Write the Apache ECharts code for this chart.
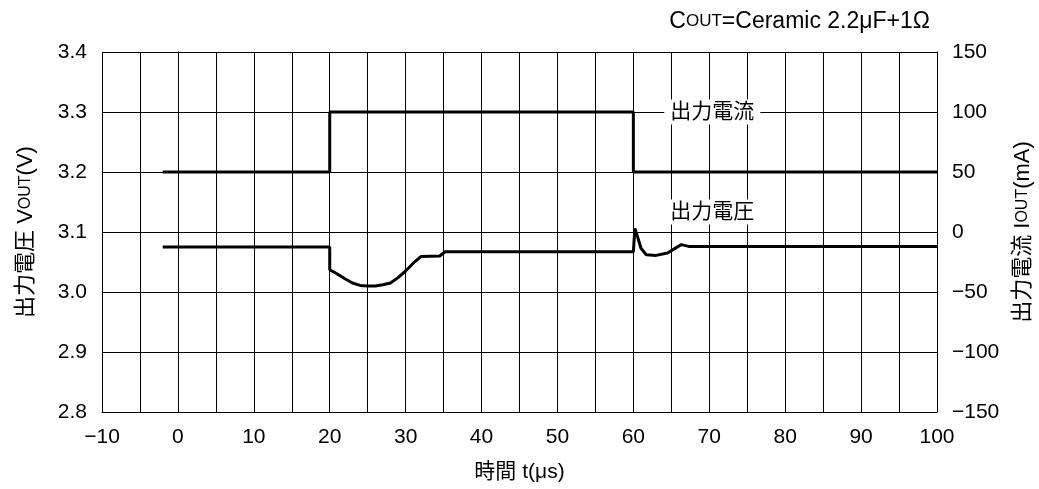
<!DOCTYPE html>
<html><head><meta charset="utf-8">
<script src="https://cdn.jsdelivr.net/npm/echarts@6/dist/echarts.min.js"></script>
<style>html,body{margin:0;padding:0;background:#fff}#c{width:1039px;height:489px}</style>
</head><body><div id="c"></div>
<script>
// time (µs) vs output voltage (V)
const voltage = [[-2,3.075],[20,3.075],[20,3.037],[21,3.030],[22,3.022],[23,3.015],[24,3.011],[25,3.010],[26,3.010],[27,3.012],[28,3.015],[29,3.024],[30,3.035],[31,3.048],[32,3.059],[34.5,3.060],[35.2,3.067],[60,3.067],[60.2,3.106],[60.6,3.090],[61,3.073],[61.7,3.062],[63,3.061],[64.5,3.065],[66.3,3.079],[67.3,3.076],[100,3.076]];
// time (µs) vs output current (mA)
const current = [[-2,50],[20,50],[20,100],[60,100],[60,50],[100,50]];
const xTicks = [-10,0,10,20,30,40,50,60,70,80,90,100];
const leftTicks = [2.8,2.9,3.0,3.1,3.2,3.3,3.4];
const rightTicks = [-150,-100,-50,0,50,100,150];

const FONT = '"Liberation Sans", Arial, "Noto Sans CJK JP", sans-serif';
const fmtNum = v => (v < 0 ? '\u2212' + Math.abs(v) : String(v));
const rich = {a: {fontSize: 22, color: '#000', fontFamily: FONT, fontWeight: 'normal'},
              b: {fontSize: 16, color: '#000', fontFamily: FONT, fontWeight: 'normal'}};
const titleRich = {a: {fontSize: 23, color: '#000', fontFamily: FONT, fontWeight: 'normal'},
              b: {fontSize: 17, color: '#000', fontFamily: FONT, fontWeight: 'normal'}};
const chart = echarts.init(document.getElementById('c'));
chart.setOption({
  animation: false,
  backgroundColor: '#fff',
  textStyle: {fontFamily: FONT, color: '#000'},
  title: {
    text: '{a|C}{b|OUT}{a|=Ceramic 2.2\u03bcF+1\u03a9}',
    right: 104, top: 5,
    textStyle: {fontWeight: 'normal', rich: titleRich}
  },
  grid: {left: 102, right: 102, top: 52, bottom: 77, outerBoundsMode: 'none', containLabel: false},
  xAxis: {
    type: 'value', min: -10, max: 100, interval: 5,
    name: '時間 t(\u03bcs)', nameLocation: 'middle', nameGap: 50,
    nameTextStyle: {fontSize: 21, color: '#000', fontFamily: FONT},
    axisLine: {show: true, onZero: false, lineStyle: {color: '#000', width: 1}},
    axisTick: {show: false},
    axisLabel: {fontSize: 21, color: '#000', margin: 15, fontFamily: FONT,
      formatter: v => (xTicks.indexOf(v) >= 0 ? fmtNum(v) : '')},
    splitLine: {show: true, lineStyle: {color: '#000', width: 1}}
  },
  yAxis: [{
    type: 'value', min: 2.8, max: 3.4, interval: 0.1, position: 'left',
    name: '{a|出力電圧 V}{b|OUT}{a|(V)}', nameLocation: 'middle', nameGap: 65, nameRotate: 90,
    nameTextStyle: {rich: rich},
    axisLine: {show: true, lineStyle: {color: '#000', width: 1}},
    axisTick: {show: false},
    axisLabel: {fontSize: 21, color: '#000', margin: 15, fontFamily: FONT,
      formatter: v => { const r = Math.round(v*10)/10; return leftTicks.indexOf(r) >= 0 ? r.toFixed(1) : ''; }},
    splitLine: {show: true, lineStyle: {color: '#000', width: 1}}
  }, {
    type: 'value', min: -150, max: 150, interval: 50, position: 'right',
    name: '{a|出力電流 I}{b|OUT}{a|(mA)}', nameLocation: 'middle', nameGap: 75, nameRotate: 90,
    nameTextStyle: {rich: rich},
    axisLine: {show: true, lineStyle: {color: '#000', width: 1}},
    axisTick: {show: false},
    axisLabel: {fontSize: 21, color: '#000', margin: 15, fontFamily: FONT,
      formatter: v => (rightTicks.indexOf(v) >= 0 ? fmtNum(v) : '')},
    splitLine: {show: false}
  }],
  series: [{
    type: 'line', yAxisIndex: 0, data: voltage, symbol: 'none', z: 3,
    lineStyle: {color: '#000', width: 3},
    markPoint: {symbol: 'rect', symbolSize: 1, itemStyle: {color: 'rgba(0,0,0,0)'},
      data: [{coord: [70.4, 3.1333], value: '出力電圧'}],
      label: {show: true, position: 'inside', formatter: '出力電圧', fontSize: 21, color: '#000',
        fontFamily: FONT, backgroundColor: '#fff', padding: [2, 4]}}
  }, {
    type: 'line', yAxisIndex: 1, data: current, symbol: 'none', z: 3,
    lineStyle: {color: '#000', width: 3},
    markPoint: {symbol: 'rect', symbolSize: 1, itemStyle: {color: 'rgba(0,0,0,0)'},
      data: [{coord: [70.4, 100], value: '出力電流'}],
      label: {show: true, position: 'inside', formatter: '出力電流', fontSize: 21, color: '#000',
        fontFamily: FONT, backgroundColor: '#fff', padding: [2, 6]}}
  }]
});
</script></body></html>
